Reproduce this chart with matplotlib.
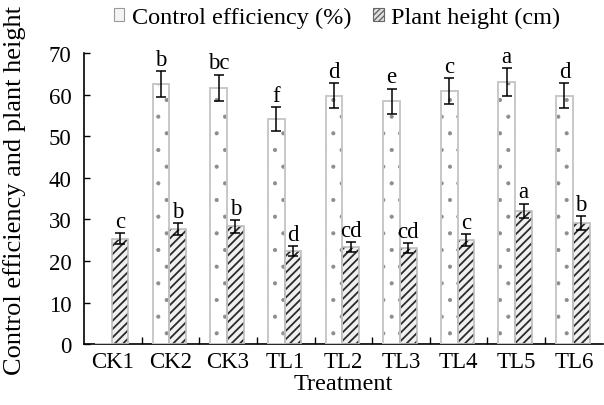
import matplotlib
matplotlib.use("Agg")
import matplotlib.pyplot as plt
import numpy as np
from matplotlib.patches import Patch

treatments = ["CK1", "CK2", "CK3", "TL1", "TL2", "TL3", "TL4", "TL5", "TL6"]
control_eff = [0, 62.5, 61.6, 54.1, 59.7, 58.4, 60.8, 63.0, 59.7]
control_err = [0, 3.1, 3.2, 2.8, 3.0, 3.0, 3.1, 3.3, 3.0]
control_sig = ["", "b", "bc", "f", "d", "e", "c", "a", "d"]
plant_height = [25.3, 27.7, 28.3, 22.3, 23.3, 23.1, 25.0, 32.1, 29.1]
plant_err = [1.3, 1.4, 1.5, 1.2, 1.2, 1.1, 1.4, 1.7, 1.6]
plant_sig = ["c", "b", "b", "d", "cd", "cd", "c", "a", "b"]

FS = 16.5
plt.rcParams["font.family"] = ["Liberation Serif", "DejaVu Serif"]

fig = plt.figure(figsize=(6.04, 4.06), dpi=100)
ax = fig.add_axes([0.139, 0.150, 0.859, 0.717])

x = np.arange(len(treatments))
w = 0.29
xc = x - 0.165
xp = x + 0.125

# control efficiency: white bars with sparse small dots and light grey sides
with plt.rc_context({"hatch.linewidth": 0.5}):
    ax.bar(xc, control_eff, w, color="white", hatch=".", edgecolor="#8c8c8c",
           linewidth=0, zorder=2)
ax.bar(xc, control_eff, w, fill=False, edgecolor="#c8c8c8", linewidth=1.4,
       zorder=3)
# plant height: dense dark diagonal hatching
with plt.rc_context({"hatch.linewidth": 1.3}):
    ax.bar(xp, plant_height, w, color="#f0f0f0", hatch="////", edgecolor="#2a2a2a",
           linewidth=0, zorder=2)
ax.bar(xp, plant_height, w, fill=False, edgecolor="#bdbdbd", linewidth=1.2,
       zorder=3)

mask = np.array(control_eff) > 0
ax.errorbar(xc[mask], np.array(control_eff)[mask], yerr=np.array(control_err)[mask],
            fmt="none", ecolor="black", elinewidth=1.1, capsize=3.6, capthick=1.1, zorder=4)
ax.errorbar(xp, plant_height, yerr=plant_err, fmt="none", ecolor="black",
            elinewidth=1.1, capsize=3.6, capthick=1.1, zorder=4)

for xi, v, e, s in zip(xc, control_eff, control_err, control_sig):
    if s:
        ax.annotate(s, (xi, v + e), xytext=(0, 1), textcoords="offset points",
                    ha="center", va="bottom", fontsize=FS)
for xi, v, e, s in zip(xp, plant_height, plant_err, plant_sig):
    ax.annotate(s, (xi, v + e), xytext=(0, 1), textcoords="offset points",
                ha="center", va="bottom", fontsize=FS)

# legend proxies (small grey squares)
h1 = Patch(facecolor="#f4f4f4", edgecolor="#9a9a9a", linewidth=0.8)
h2 = Patch(facecolor="#e0e0e0", edgecolor="#666666", hatch="//////", linewidth=0.8)
fig.legend([h1, h2], ["Control efficiency (%)", "Plant height (cm)"],
           loc="center", bbox_to_anchor=(0.558, 0.955), ncol=2, frameon=False,
           fontsize=17.5, handlelength=0.45, handleheight=0.45, handletextpad=0.3,
           columnspacing=0.9, borderpad=0)

ax.set_xlim(-0.5, len(treatments) - 0.5)
ax.set_ylim(0, 70)
ax.set_yticks(range(0, 71, 10))
ax.set_xticks(x)
ax.set_xticklabels(treatments)
ax.set_xticks(np.arange(0.5, len(treatments) - 0.5, 1), minor=True)
ax.tick_params(axis="x", which="major", length=0, labelsize=FS, pad=5)
ax.tick_params(axis="x", which="minor", direction="in", length=5, width=1)
ax.tick_params(axis="y", direction="in", length=4.5, width=1, labelsize=FS, pad=9)
for side in ("top", "right"):
    ax.spines[side].set_visible(False)
for side in ("left", "bottom"):
    ax.spines[side].set_linewidth(1.2)

ax.set_xlabel("Treatment", fontsize=17.5, labelpad=1)
ax.set_ylabel("Control efficiency and plant height", fontsize=19)
ax.yaxis.set_label_coords(-0.112, 0.53)

fig.savefig("out.png", dpi=100)
